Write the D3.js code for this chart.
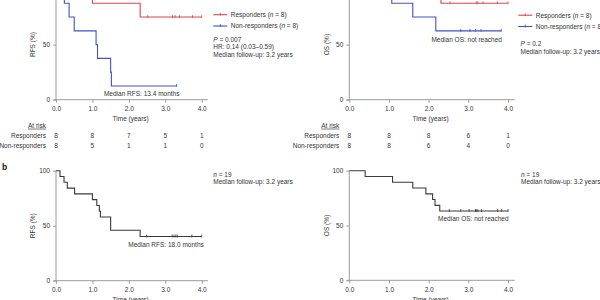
<!DOCTYPE html>
<html>
<head>
<meta charset="utf-8">
<script src="https://cdn.jsdelivr.net/npm/d3@7"></script>
<style>
body { margin: 0; background: #fff; }
svg { display: block; font-family: "Liberation Sans", Arial, sans-serif; }
</style>
</head>
<body>
<div id="chart"></div>
<script>
// time axis ticks (years)
const years = [0, 1, 2, 3, 4];

// panel a, RFS
const aRfsRespT = [0, 1.0, 2.31];
const aRfsRespS = [100, 87.5, 75];
const aRfsRespEnd = 4.0;
const aRfsRespCens = [2.52, 3.2, 3.27, 3.39, 3.75, 4.0];
const aRfsNonT = [0, 0.23, 0.36, 0.5, 1.1, 1.14, 1.5, 1.52];
const aRfsNonS = [100, 87.5, 75, 62.5, 50, 37.5, 25, 12.5];
const aRfsNonEnd = 3.31;
const aRfsNonCens = [3.31];
const aRfsRiskResp = [8, 8, 7, 5, 1];
const aRfsRiskNon = [8, 5, 1, 1, 0];

// panel a, OS
const aOsRespT = [0, 2.31];
const aOsRespS = [100, 87.5];
const aOsRespEnd = 4.0;
const aOsRespCens = [2.54, 3.2, 3.24, 3.37, 3.73, 4.0];
const aOsNonT = [0, 1.07, 1.6, 2.18];
const aOsNonS = [100, 87.5, 75, 62.5];
const aOsNonEnd = 3.83;
const aOsNonCens = [2.81, 3.04, 3.18, 3.32, 3.83];
const aOsRiskResp = [8, 8, 8, 6, 1];
const aOsRiskNon = [8, 8, 6, 4, 0];

// panel b, all patients
const bRfsT = [0, 0.11, 0.22, 0.31, 0.51, 1.0, 1.12, 1.19, 1.22, 1.5, 2.31];
const bRfsS = [100, 94.7, 89.5, 84.2, 78.9, 73.7, 68.4, 63.2, 57.9, 45.8, 40.2];
const bRfsEnd = 4.0;
const bRfsCens = [2.49, 3.19, 3.24, 3.29, 3.33, 3.73, 4.0];
const bOsT = [0, 0.4, 1.09, 1.6, 1.93, 2.1, 2.16, 2.28];
const bOsS = [100, 94.7, 89.5, 84.2, 78.9, 73.7, 68.4, 63.2];
const bOsEnd = 4.0;
const bOsCens = [2.52, 2.81, 3.02, 3.18, 3.2, 3.24, 3.33, 3.74, 3.84, 4.0];

const red = "#dc4646";
const blue = "#4152c2";
const dark = "#3a3a3a";
const axisCol = "#9c9c9c";
const textCol = "#333";
const fs = 6.5;

const svg = d3.select("#chart")
    .append("svg")
    .attr("width", 600)
    .attr("height", 300);

function survAt(T, S, t) {
    let s = S[0];
    T.forEach((tt, i) => { if (tt <= t) s = S[i]; });
    return s;
}

function panel(cfg) {
    const x = d3.scaleLinear().domain([0, 4]).range([cfg.x0, cfg.x4]);
    const y = d3.scaleLinear().domain([0, 100]).range([cfg.y0, cfg.y100]);
    const g = svg.append("g");

    // axes
    const xa = g.append("g")
        .attr("transform", `translate(0,${y(0)})`)
        .call(d3.axisBottom(x).tickValues(years).tickSize(3).tickPadding(4).tickSizeOuter(0));
    const ya = g.append("g")
        .attr("transform", `translate(${x(0)},0)`)
        .call(d3.axisLeft(y).tickValues(cfg.yTicks).tickSize(3).tickPadding(3).tickSizeOuter(0));
    [xa, ya].forEach(a => {
        a.select(".domain").remove();
        a.selectAll("line").attr("stroke", axisCol);
        a.selectAll("text").attr("fill", textCol).style("font-size", fs + "px").style("font-family", "inherit");
    });
    g.append("line")
        .attr("x1", x(-0.07)).attr("x2", x(4.17))
        .attr("y1", y(0)).attr("y2", y(0))
        .attr("stroke", axisCol);
    g.append("line")
        .attr("x1", x(0)).attr("x2", x(0))
        .attr("y1", y(0)).attr("y2", y(cfg.yTop))
        .attr("stroke", axisCol);

    g.append("text")
        .attr("x", x(2.05)).attr("y", y(0) + 21.5)
        .attr("text-anchor", "middle")
        .attr("fill", textCol).style("font-size", fs + "px")
        .text("Time (years)");
    g.append("text")
        .attr("transform", `translate(${x(0) - 23},${y(50)}) rotate(-90)`)
        .attr("text-anchor", "middle")
        .attr("dy", "0.35em")
        .attr("fill", textCol).style("font-size", fs + "px")
        .text(cfg.ylabel);

    const line = d3.line()
        .x(d => x(d[0]))
        .y(d => y(d[1]))
        .curve(d3.curveStepAfter);

    cfg.series.forEach(s => {
        const pts = s.T.map((t, i) => [t, s.S[i]]);
        pts.push([s.end, s.S[s.S.length - 1]]);
        g.append("path")
            .attr("d", line(pts))
            .attr("fill", "none")
            .attr("stroke", s.color)
            .attr("stroke-width", 1.1);
        g.selectAll(null)
            .data(s.cens)
            .enter()
            .append("line")
            .attr("x1", d => x(d)).attr("x2", d => x(d))
            .attr("y1", d => y(survAt(s.T, s.S, d)) - 2)
            .attr("y2", d => y(survAt(s.T, s.S, d)) + 1)
            .attr("stroke", s.color)
            .attr("stroke-width", 0.8);
    });

    g.append("text")
        .attr("x", cfg.median[0]).attr("y", cfg.median[1])
        .attr("text-anchor", "middle")
        .attr("fill", textCol).style("font-size", fs + "px")
        .text(cfg.median[2]);

    // legend
    if (cfg.legend) {
        cfg.legend.forEach((l, i) => {
            const ly = cfg.legendY + i * 11.3;
            g.append("line")
                .attr("x1", cfg.legendX).attr("x2", cfg.legendX + 14)
                .attr("y1", ly).attr("y2", ly)
                .attr("stroke", l.color).attr("stroke-width", 1.1);
            g.append("line")
                .attr("x1", cfg.legendX + 7).attr("x2", cfg.legendX + 7)
                .attr("y1", ly - 2).attr("y2", ly + 1)
                .attr("stroke", l.color).attr("stroke-width", 0.8);
            const t = g.append("text")
                .attr("x", cfg.legendX + 17.5).attr("y", ly + 2.3)
                .attr("fill", textCol).style("font-size", fs + "px");
            t.append("tspan").text(l.name + " (");
            t.append("tspan").attr("font-style", "italic").text("n");
            t.append("tspan").text(" = 8)");
        });
    }

    // stats lines
    cfg.notes.forEach((n, i) => {
        const t = g.append("text")
            .attr("x", cfg.notesX).attr("y", cfg.notesY + i * 7.7)
            .attr("fill", textCol).style("font-size", fs + "px");
        if (n[0]) t.append("tspan").attr("font-style", "italic").text(n[0]);
        t.append("tspan").text(n[1]);
    });

    // numbers at risk
    if (cfg.risk) {
        const ax = x(0) - 10;
        g.append("text")
            .attr("x", ax).attr("y", 127.7)
            .attr("text-anchor", "end")
            .attr("text-decoration", "underline")
            .attr("fill", textCol).style("font-size", fs + "px")
            .text("At risk");
        cfg.risk.forEach((r, i) => {
            const ry = 137.8 + i * 9.9;
            g.append("text")
                .attr("x", ax).attr("y", ry)
                .attr("text-anchor", "end")
                .attr("fill", textCol).style("font-size", fs + "px")
                .text(r.name);
            g.selectAll(null)
                .data(r.values)
                .enter()
                .append("text")
                .attr("x", (d, j) => x(years[j]))
                .attr("y", ry)
                .attr("text-anchor", "middle")
                .attr("fill", textCol).style("font-size", fs + "px")
                .text(d => d);
        });
    }
}

const legendItems = [
    {name: "Responders", color: red},
    {name: "Non-responders", color: blue}
];

panel({
    x0: 56, x4: 201.7, y0: 99.7, y100: -10.5, yTop: 110, yTicks: [0, 50], ylabel: "RFS (%)",
    series: [
        {T: aRfsRespT, S: aRfsRespS, end: aRfsRespEnd, cens: aRfsRespCens, color: red},
        {T: aRfsNonT, S: aRfsNonS, end: aRfsNonEnd, cens: aRfsNonCens, color: blue}
    ],
    median: [141.7, 95.5, "Median RFS: 13.4 months"],
    legend: legendItems, legendX: 213.3, legendY: 14.7,
    notes: [["P", " = 0.007"], ["", "HR: 0.14 (0.03\u20130.59)"], ["", "Median follow-up: 3.2 years"]],
    notesX: 213.3, notesY: 41.6,
    risk: [{name: "Responders", values: aRfsRiskResp}, {name: "Non-responders", values: aRfsRiskNon}]
});

panel({
    x0: 349.3, x4: 508, y0: 99.7, y100: -10.5, yTop: 110, yTicks: [0, 50], ylabel: "OS (%)",
    series: [
        {T: aOsRespT, S: aOsRespS, end: aOsRespEnd, cens: aOsRespCens, color: red},
        {T: aOsNonT, S: aOsNonS, end: aOsNonEnd, cens: aOsNonCens, color: blue}
    ],
    median: [466.7, 41.5, "Median OS: not reached"],
    legend: legendItems, legendX: 518.3, legendY: 15.2,
    notes: [["P", " = 0.2"], ["", "Median follow-up: 3.2 years"]],
    notesX: 520.5, notesY: 46,
    risk: [{name: "Responders", values: aOsRiskResp}, {name: "Non-responders", values: aOsRiskNon}]
});

panel({
    x0: 56, x4: 201.7, y0: 280.7, y100: 170.7, yTop: 100, yTicks: [0, 50, 100], ylabel: "RFS (%)",
    series: [{T: bRfsT, S: bRfsS, end: bRfsEnd, cens: bRfsCens, color: dark}],
    median: [166, 246.5, "Median RFS: 18.0 months"],
    notes: [["n", " = 19"], ["", "Median follow-up: 3.2 years"]],
    notesX: 213.3, notesY: 176.7
});

panel({
    x0: 349.3, x4: 508, y0: 280.3, y100: 170.7, yTop: 100, yTicks: [0, 50, 100], ylabel: "OS (%)",
    series: [{T: bOsT, S: bOsS, end: bOsEnd, cens: bOsCens, color: dark}],
    median: [473.3, 221.2, "Median OS: not reached"],
    notes: [["n", " = 19"], ["", "Median follow-up: 3.2 years"]],
    notesX: 521, notesY: 176.7
});

svg.append("text")
    .attr("x", 2).attr("y", 169.5)
    .attr("font-weight", "bold")
    .attr("fill", "#111")
    .style("font-size", "8.5px")
    .text("b");
</script>
</body>
</html>
